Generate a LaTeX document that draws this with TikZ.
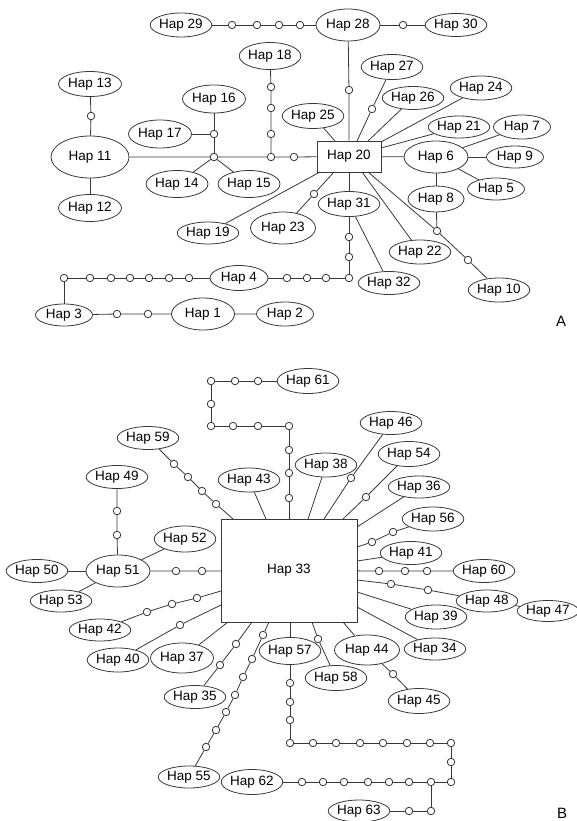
\documentclass[tikz,border=0pt]{standalone}
\usepackage{fontspec}
\setmainfont{Liberation Sans}
\usetikzlibrary{shapes.geometric}
\definecolor{ln}{HTML}{383838}
\tikzset{
  hap/.style={ellipse, draw=ln, line width=0.8pt, inner sep=0pt, minimum width=58, minimum height=24, font=\fontsize{13.5}{15}\selectfont},
  hapbox/.style={rectangle, draw=ln, line width=0.8pt, inner sep=0pt, font=\fontsize{13.5}{15}\selectfont},
  sm/.style={circle, draw=ln, line width=0.8pt, fill=white, minimum size=7.5, inner sep=0pt},
  lnk/.style={draw=ln, line width=0.8pt},
  lab/.style={font=\fontsize{15}{17}\selectfont}
}
\begin{document}
\begin{tikzpicture}[x=1pt,y=-1pt]
\useasboundingbox (0,0) rectangle (576,821);
% ---------- Panel A ----------
\node[hap] (h29) at (181,25) {Hap 29};
\node[hap, minimum width=64, minimum height=32] (h28) at (348,25) {Hap 28};
\node[hap, minimum width=57, minimum height=23] (h30) at (456,25) {Hap 30};
\node[hap, minimum height=25] (h27) at (392,67) {Hap 27};
\node[hap, minimum width=57, minimum height=23] (h26) at (413,98) {Hap 26};
\node[hap] (h24) at (481,88) {Hap 24};
\node[hap, minimum width=59, minimum height=25] (h25) at (313,116) {Hap 25};
\node[hap, minimum width=59, minimum height=22] (h21) at (459,127) {Hap 21};
\node[hap, minimum width=57] (h7) at (522,127) {Hap 7};
\node[hap, minimum width=64, minimum height=32] (h6) at (436,157) {Hap 6};
\node[hap, minimum width=57, minimum height=22] (h9) at (515,157) {Hap 9};
\node[hap, minimum width=57, minimum height=22] (h5) at (496,189) {Hap 5};
\node[hap, minimum width=56, minimum height=26] (h8) at (436,199) {Hap 8};
\node[hap, minimum width=57] (h10) at (499,290) {Hap 10};
\node[hap, minimum width=57] (h22) at (420,252) {Hap 22};
\node[hap, minimum height=25] (h31) at (349,204) {Hap 31};
\node[hap, minimum height=23] (h32) at (389,283) {Hap 32};
\node[hap, minimum width=65, minimum height=32] (h23) at (283,228) {Hap 23};
\node[hap, minimum height=22] (h19) at (208,233) {Hap 19};
\node[hap, minimum width=62, minimum height=27] (h14) at (177,184) {Hap 14};
\node[hap, minimum width=62, minimum height=27] (h15) at (249,184) {Hap 15};
\node[hap, minimum width=63, minimum height=28] (h16) at (214,99) {Hap 16};
\node[hap, minimum width=63, minimum height=28] (h17) at (160,134) {Hap 17};
\node[hap, minimum width=61, minimum height=27] (h18) at (270,56) {Hap 18};
\node[hap, minimum width=63, minimum height=25] (h13) at (90,84) {Hap 13};
\node[hap, minimum width=78, minimum height=42] (h11) at (90,157) {Hap 11};
\node[hap, minimum width=63, minimum height=27] (h12) at (90,208) {Hap 12};
\node[hap, minimum height=25] (h4) at (239,278) {Hap 4};
\node[hap, minimum width=57, minimum height=22] (h3) at (64,315) {Hap 3};
\node[hap, minimum width=63, minimum height=32] (h1) at (203,314) {Hap 1};
\node[hap, minimum width=57] (h2) at (285,314) {Hap 2};
\node[hapbox, minimum width=64, minimum height=31] (r20) at (349,156.5) {Hap 20};
\node[lab] (labA) at (561,321) {A};
% small circles A
\node[sm] (a1) at (232,25) {};
\node[sm] (a2) at (257,25) {};
\node[sm] (a3) at (279,25) {};
\node[sm] (a4) at (300,25) {};
\node[sm] (a5) at (403,25) {};
\node[sm] (a6) at (349,90) {};
\node[sm] (a7) at (372,109) {};
\node[sm] (a8) at (437,231) {};
\node[sm] (a9) at (468,260) {};
\node[sm] (a10) at (349,237) {};
\node[sm] (a11) at (349,257) {};
\node[sm] (a12) at (349,278) {};
\node[sm] (a13) at (326,278) {};
\node[sm] (a14) at (307,278) {};
\node[sm] (a15) at (287,278) {};
\node[sm] (a16) at (314,194) {};
\node[sm] (a17) at (214,157) {};
\node[sm] (a18) at (271,157) {};
\node[sm] (a19) at (294,157) {};
\node[sm] (a20) at (214,134) {};
\node[sm] (a21) at (271,87) {};
\node[sm] (a22) at (271,108) {};
\node[sm] (a23) at (271,134) {};
\node[sm] (a24) at (91,116) {};
\node[sm] (a25) at (189,278) {};
\node[sm] (a26) at (169,278) {};
\node[sm] (a27) at (149,278) {};
\node[sm] (a28) at (130,278) {};
\node[sm] (a29) at (111,278) {};
\node[sm] (a30) at (90,278) {};
\node[sm] (a31) at (64,278) {};
\node[sm] (a32) at (117,314) {};
\node[sm] (a33) at (148,314) {};
% border points of Hap 20
\coordinate (p27) at (357,141);
\coordinate (p26) at (368,141);
\coordinate (p24) at (381,142);
\coordinate (p25) at (335,141);
\coordinate (p21) at (381,148);
\coordinate (p10) at (368,172);
\coordinate (p22) at (362,172);
\coordinate (p23) at (334,172);
\coordinate (p19) at (320,172);
% connectors A
\path[lnk] (h29) -- (a1) -- (a2) -- (a3) -- (a4) -- (h28) -- (a5) -- (h30);
\path[lnk] (h28) -- (a6) -- (r20);
\path[lnk] (h27) -- (a7) -- (p27);
\path[lnk] (h26) -- (p26);
\path[lnk] (h24) -- (p24);
\path[lnk] (h25) -- (p25);
\path[lnk] (h21) -- (p21);
\path[lnk] (r20) -- (h6);
\path[lnk] (h7) -- (h6);
\path[lnk] (h6) -- (h9);
\path[lnk] (h6) -- (h5);
\path[lnk] (h6) -- (h8);
\path[lnk] (h8) -- (a8);
\path[lnk] (p10) -- (a8) -- (a9) -- (h10);
\path[lnk] (p22) -- (h22);
\path[lnk] (r20) -- (h31);
\path[lnk] (h31) -- (a10) -- (a11) -- (a12) -- (a13) -- (a14) -- (a15) -- (h4);
\path[lnk] (h31) -- (h32);
\path[lnk] (p23) -- (a16) -- (h23);
\path[lnk] (p19) -- (h19);
\path[lnk] (h11) -- (a17) -- (a18) -- (a19) -- (r20);
\path[lnk] (a17) -- (h14);
\path[lnk] (a17) -- (h15);
\path[lnk] (h16) -- (a20) -- (a17);
\path[lnk] (h17) -- (a20);
\path[lnk] (h18) -- (a21) -- (a22) -- (a23) -- (a18);
\path[lnk] (h13) -- (a24) -- (h11);
\path[lnk] (h11) -- (h12);
\path[lnk] (h4) -- (a25) -- (a26) -- (a27) -- (a28) -- (a29) -- (a30) -- (a31) -- (h3);
\path[lnk] (h3) -- (a32) -- (a33) -- (h1) -- (h2);
% ---------- Panel B ----------
\node[hapbox, minimum width=136, minimum height=103] (r33) at (289,570.5) {Hap 33};
\node[hap, minimum height=25] (h61) at (308,381) {Hap 61};
\node[hap, minimum height=23] (h59) at (148,438) {Hap 59};
\node[hap, minimum width=57] (h43) at (249,480) {Hap 43};
\node[hap, minimum width=59, minimum height=23] (h49) at (117,477) {Hap 49};
\node[hap, minimum width=57, minimum height=26] (h52) at (185,539) {Hap 52};
\node[hap, minimum width=64, minimum height=32] (h51) at (118,571) {Hap 51};
\node[hap, minimum height=23] (h50) at (37,571) {Hap 50};
\node[hap, minimum height=22] (h53) at (61,601) {Hap 53};
\node[hap, minimum height=22] (h42) at (100,630) {Hap 42};
\node[hap, minimum width=59] (h40) at (118,660) {Hap 40};
\node[hap, minimum width=63, minimum height=30] (h37) at (182,658) {Hap 37};
\node[hap, minimum height=23] (h35) at (195,697) {Hap 35};
\node[hap, minimum width=57, minimum height=22] (h55) at (189,777) {Hap 55};
\node[hap, minimum height=27] (h57) at (290,651) {Hap 57};
\node[hap, minimum width=59, minimum height=25] (h62) at (252,782) {Hap 62};
\node[hap, minimum width=57, minimum height=22] (h63) at (359,811) {Hap 63};
\node[hap, minimum height=25] (h58) at (336,678) {Hap 58};
\node[hap, minimum width=65, minimum height=30] (h44) at (367,650) {Hap 44};
\node[hap, minimum height=25] (h45) at (419,701) {Hap 45};
\node[hap, minimum height=22] (h34) at (435,649) {Hap 34};
\node[hap] (h39) at (436,617) {Hap 39};
\node[hap, minimum width=59, minimum height=22] (h48) at (487,601) {Hap 48};
\node[hap, minimum width=54, minimum height=21] (h47) at (548,611) {Hap 47};
\node[hap, minimum height=23] (h60) at (484,571) {Hap 60};
\node[hap, minimum width=59, minimum height=23] (h41) at (411,553) {Hap 41};
\node[hap] (h56) at (433,519) {Hap 56};
\node[hap, minimum width=57, minimum height=22] (h36) at (419,487) {Hap 36};
\node[hap, minimum width=57, minimum height=25] (h54) at (409,454) {Hap 54};
\node[hap, minimum width=57, minimum height=23] (h46) at (391,423) {Hap 46};
\node[hap, minimum width=59] (h38) at (326,465) {Hap 38};
\node[lab] (labB) at (562,813) {B};
% small circles B
\node[sm] (b1) at (258,381) {};
\node[sm] (b2) at (235,381) {};
\node[sm] (b3) at (211,381) {};
\node[sm] (b4) at (211,404) {};
\node[sm] (b5) at (211,426) {};
\node[sm] (b6) at (233,426) {};
\node[sm] (b7) at (258,426) {};
\node[sm] (b8) at (289,426) {};
\node[sm] (b9) at (289,450) {};
\node[sm] (b10) at (289,473) {};
\node[sm] (b11) at (289,498) {};
\node[sm] (b12) at (174,464) {};
\node[sm] (b13) at (188,477) {};
\node[sm] (b14) at (202,491) {};
\node[sm] (b15) at (216,504) {};
\node[sm] (b16) at (117,511) {};
\node[sm] (b17) at (117,535) {};
\node[sm] (b18) at (176,571) {};
\node[sm] (b19) at (202,571) {};
\node[sm] (b20) at (147,612) {};
\node[sm] (b21) at (172,604) {};
\node[sm] (b22) at (197,598) {};
\node[sm] (b23) at (180,625) {};
\node[sm] (b24) at (220,665) {};
\node[sm] (b25) at (236,644) {};
\node[sm] (b26) at (206,747) {};
\node[sm] (b27) at (216,730) {};
\node[sm] (b28) at (226,712) {};
\node[sm] (b29) at (235,695) {};
\node[sm] (b30) at (243,677) {};
\node[sm] (b31) at (252,659) {};
\node[sm] (b32) at (263,635) {};
\node[sm] (b33) at (290,683) {};
\node[sm] (b34) at (290,702) {};
\node[sm] (b35) at (290,720) {};
\node[sm] (b36) at (290,743) {};
\node[sm] (b37) at (313,743) {};
\node[sm] (b38) at (336,743) {};
\node[sm] (b39) at (360,743) {};
\node[sm] (b40) at (383,743) {};
\node[sm] (b41) at (407,743) {};
\node[sm] (b42) at (430,743) {};
\node[sm] (b43) at (451,743) {};
\node[sm] (b44) at (451,762) {};
\node[sm] (b45) at (451,782) {};
\node[sm] (b46) at (431,782) {};
\node[sm] (b47) at (409,782) {};
\node[sm] (b48) at (389,782) {};
\node[sm] (b49) at (368,782) {};
\node[sm] (b50) at (344,782) {};
\node[sm] (b51) at (323,782) {};
\node[sm] (b52) at (302,782) {};
\node[sm] (b53) at (431,811) {};
\node[sm] (b54) at (409,811) {};
\node[sm] (b55) at (318,639) {};
\node[sm] (b56) at (393,674) {};
\node[sm] (b57) at (391,584) {};
\node[sm] (b58) at (428,590) {};
\node[sm] (b59) at (379,571) {};
\node[sm] (b60) at (405,571) {};
\node[sm] (b61) at (427,571) {};
\node[sm] (b62) at (372,542) {};
\node[sm] (b63) at (393,532) {};
\node[sm] (b64) at (366,497) {};
\node[sm] (b65) at (351,478) {};
% border points of Hap 33
\coordinate (q59) at (233,519);
\coordinate (q43) at (266,519);
\coordinate (q38) at (308,519);
\coordinate (q46) at (324,519);
\coordinate (q54) at (343,519);
\coordinate (q36) at (357,527);
\coordinate (q56) at (357,547);
\coordinate (q41) at (357,561);
\coordinate (q48) at (357,580);
\coordinate (q39) at (357,592);
\coordinate (q34) at (357,607);
\coordinate (q44) at (343,622);
\coordinate (q58) at (312,622);
\coordinate (q57) at (290,622);
\coordinate (q55) at (269,622);
\coordinate (q35) at (252,622);
\coordinate (q37) at (228,622);
\coordinate (q40) at (221,605);
\coordinate (q42) at (221,591);
% connectors B
\path[lnk] (h61) -- (b1) -- (b2) -- (b3) -- (b4) -- (b5) -- (b6) -- (b7) -- (b8) -- (b9) -- (b10) -- (b11) -- (r33);
\path[lnk] (h59) -- (b12) -- (b13) -- (b14) -- (b15) -- (q59);
\path[lnk] (h43) -- (q43);
\path[lnk] (h49) -- (b16) -- (b17) -- (h51);
\path[lnk] (h52) -- (h51);
\path[lnk] (h50) -- (h51);
\path[lnk] (h53) -- (h51);
\path[lnk] (h51) -- (b18) -- (b19) -- (r33);
\path[lnk] (h42) -- (b20) -- (b21) -- (b22) -- (q42);
\path[lnk] (h40) -- (b23) -- (q40);
\path[lnk] (h37) -- (q37);
\path[lnk] (h35) -- (b24) -- (b25) -- (q35);
\path[lnk] (h55) -- (b26) -- (b27) -- (b28) -- (b29) -- (b30) -- (b31) -- (b32) -- (q55);
\path[lnk] (q57) -- (h57);
\path[lnk] (h57) -- (b33) -- (b34) -- (b35) -- (b36) -- (b37) -- (b38) -- (b39) -- (b40) -- (b41) -- (b42) -- (b43) -- (b44) -- (b45) -- (b46) -- (b47) -- (b48) -- (b49) -- (b50) -- (b51) -- (b52) -- (h62);
\path[lnk] (b46) -- (b53) -- (b54) -- (h63);
\path[lnk] (q58) -- (b55) -- (h58);
\path[lnk] (q44) -- (h44);
\path[lnk] (h44) -- (b56) -- (h45);
\path[lnk] (q34) -- (h34);
\path[lnk] (q39) -- (h39);
\path[lnk] (q48) -- (b57) -- (b58) -- (h48);
\path[lnk] (h48) -- (h47);
\path[lnk] (r33) -- (b59) -- (b60) -- (b61) -- (h60);
\path[lnk] (q41) -- (h41);
\path[lnk] (q56) -- (b62) -- (b63) -- (h56);
\path[lnk] (q36) -- (h36);
\path[lnk] (q54) -- (b64) -- (h54);
\path[lnk] (q46) -- (b65) -- (h46);
\path[lnk] (q38) -- (h38);
\end{tikzpicture}
\end{document}
